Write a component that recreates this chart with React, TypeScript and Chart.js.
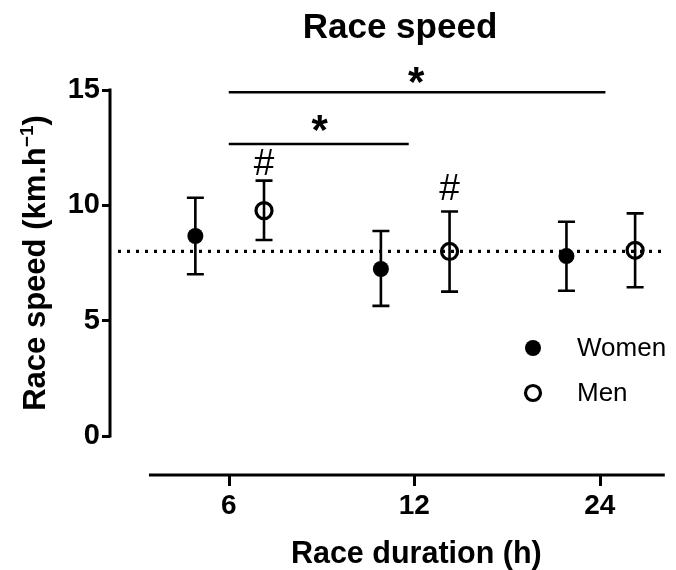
import React, { useEffect, useRef } from "react";
import { Chart, registerables } from "chart.js";

Chart.register(...registerables);

// Race durations (h) and their positions on the x scale
const durations = ["6", "12", "24"];
const durationPos = [1, 2, 3];
const womenOffset = -0.18;
const menOffset = 0.19;

// Mean race speed (km/h) with lower / upper error bounds
const womenMean = [8.67, 7.24, 7.8];
const womenLow = [7.01, 5.64, 6.3];
const womenHigh = [10.33, 8.89, 9.29];
const menMean = [9.77, 8.0, 8.05];
const menLow = [8.5, 6.26, 6.45];
const menHigh = [11.07, 9.73, 9.65];

// Overall reference speed (dotted line)
const referenceSpeed = 8;
const yTicks = [0, 5, 10, 15];

// Significance brackets between durations (*)
const bracketFrom = [1, 1];
const bracketTo = [3.03, 1.97];
const bracketLevel = [14.9, 12.66];
const bracketStarX = [2.01, 1.49];
const bracketStarLevel = [15.65, 13.57];

// Men vs women differences (#), placed over the men's points
const hashIndex = [0, 1];
const hashLevel = [11.9, 10.8];

const FONT = "'Liberation Sans', Arial, Helvetica, sans-serif";

function centeredText(ctx: CanvasRenderingContext2D, text: string, x: number, cy: number) {
  const m = ctx.measureText(text);
  const asc = m.actualBoundingBoxAscent;
  const desc = m.actualBoundingBoxDescent;
  ctx.textAlign = "center";
  ctx.textBaseline = "alphabetic";
  ctx.fillText(text, x, cy - (desc - asc) / 2);
}

const errorBarsPlugin = {
  id: "errorBarsAndReference",
  beforeDatasetsDraw(chart: any) {
    const { ctx, chartArea, scales } = chart;
    const xs = scales.x;
    const ys = scales.y;
    ctx.save();
    // dotted reference line
    const ry = ys.getPixelForValue(referenceSpeed);
    ctx.strokeStyle = "#000";
    ctx.lineWidth = 3.2;
    ctx.setLineDash([3, 6]);
    ctx.beginPath();
    ctx.moveTo(chartArea.left + 8, ry);
    ctx.lineTo(chartArea.right, ry);
    ctx.stroke();
    ctx.setLineDash([]);

    // error bars
    const groups = [
      { off: womenOffset, low: womenLow, high: womenHigh },
      { off: menOffset, low: menLow, high: menHigh },
    ];
    ctx.lineWidth = 2.6;
    groups.forEach((g) => {
      durationPos.forEach((p, i) => {
        const x = xs.getPixelForValue(p + g.off);
        const yl = ys.getPixelForValue(g.low[i]);
        const yh = ys.getPixelForValue(g.high[i]);
        const cap = 8.5;
        ctx.beginPath();
        ctx.moveTo(x, yl);
        ctx.lineTo(x, yh);
        ctx.moveTo(x - cap, yl);
        ctx.lineTo(x + cap, yl);
        ctx.moveTo(x - cap, yh);
        ctx.lineTo(x + cap, yh);
        ctx.stroke();
      });
    });
    ctx.restore();
  },
};

const decorationsPlugin = {
  id: "axesTitlesAnnotations",
  afterDraw(chart: any) {
    const { ctx, chartArea, scales } = chart;
    const xs = scales.x;
    const ys = scales.y;
    ctx.save();
    ctx.fillStyle = "#000";
    ctx.strokeStyle = "#000";

    // y axis line (0..15)
    ctx.lineWidth = 3;
    ctx.lineCap = "square";
    ctx.beginPath();
    ctx.moveTo(chartArea.left, ys.getPixelForValue(yTicks[0]));
    ctx.lineTo(chartArea.left, ys.getPixelForValue(yTicks[yTicks.length - 1]));
    ctx.stroke();

    // detached x axis line with its tick marks
    ctx.lineCap = "butt";
    ctx.beginPath();
    ctx.moveTo(xs.getPixelForValue(0.57), chartArea.bottom);
    ctx.lineTo(chartArea.right, chartArea.bottom);
    ctx.stroke();
    ctx.lineWidth = 3;
    durationPos.forEach((p) => {
      const x = Math.round(xs.getPixelForValue(p)) + 0.5;
      ctx.beginPath();
      ctx.moveTo(x, chartArea.bottom);
      ctx.lineTo(x, chartArea.bottom + 11);
      ctx.stroke();
    });

    // significance brackets
    ctx.lineWidth = 2.5;
    bracketFrom.forEach((f, i) => {
      const y = ys.getPixelForValue(bracketLevel[i]);
      ctx.beginPath();
      ctx.moveTo(xs.getPixelForValue(f), y);
      ctx.lineTo(xs.getPixelForValue(bracketTo[i]), y);
      ctx.stroke();
      ctx.font = `bold 42px ${FONT}`;
      centeredText(ctx, "*", xs.getPixelForValue(bracketStarX[i]), ys.getPixelForValue(bracketStarLevel[i]));
    });

    // sex differences
    ctx.font = `37px ${FONT}`;
    hashIndex.forEach((idx, i) => {
      centeredText(ctx, "#", xs.getPixelForValue(durationPos[idx] + menOffset), ys.getPixelForValue(hashLevel[i]));
    });

    // chart title
    ctx.font = `bold 35px ${FONT}`;
    ctx.textAlign = "center";
    ctx.textBaseline = "alphabetic";
    ctx.fillText("Race speed", 400, 38);

    // x axis title
    ctx.font = `bold 30.5px ${FONT}`;
    ctx.fillText("Race duration (h)", xs.getPixelForValue(2) + 2, 563);

    // y axis title with superscript
    const cy = (ys.getPixelForValue(yTicks[0]) + ys.getPixelForValue(yTicks[yTicks.length - 1])) / 2;
    const mainFont = `bold 31px ${FONT}`;
    const supFont = `bold 19px ${FONT}`;
    const p1 = "Race speed (km.h";
    const p2 = "\u22121";
    const p3 = ")";
    ctx.font = mainFont;
    const w1 = ctx.measureText(p1).width;
    const w3 = ctx.measureText(p3).width;
    ctx.font = supFont;
    const w2 = ctx.measureText(p2).width;
    const total = w1 + w2 + w3;
    ctx.translate(45, cy);
    ctx.rotate(-Math.PI / 2);
    ctx.textAlign = "left";
    let x0 = -total / 2;
    ctx.font = mainFont;
    ctx.fillText(p1, x0, 0);
    x0 += w1;
    ctx.font = supFont;
    ctx.fillText(p2, x0, -12);
    x0 += w2;
    ctx.font = mainFont;
    ctx.fillText(p3, x0, 0);
    ctx.setTransform(1, 0, 0, 1, 0, 0);

    // legend
    const legendRows = chart.data.datasets.map((ds: any, i: number) => ({
      label: ds.label,
      border: ds.borderWidth,
      r: ds.pointRadius,
      y: 348 + i * 45,
    }));
    legendRows.forEach((row: any) => {
      ctx.beginPath();
      if (row.border > 0) {
        ctx.arc(533, row.y, row.r - 0.5, 0, Math.PI * 2);
        ctx.lineWidth = row.border;
        ctx.stroke();
      } else {
        ctx.arc(533, row.y, row.r, 0, Math.PI * 2);
        ctx.fill();
      }
      ctx.font = `26px ${FONT}`;
      ctx.textAlign = "left";
      ctx.textBaseline = "middle";
      ctx.fillText(row.label, 577, row.y + 1);
    });
    ctx.restore();
  },
};

export default function App() {
  const canvasRef = useRef<HTMLCanvasElement | null>(null);

  useEffect(() => {
    if (!canvasRef.current) return;
    const chart = new Chart(canvasRef.current, {
      type: "scatter",
      data: {
        datasets: [
          {
            label: "Women",
            data: womenMean.map((y, i) => ({ x: durationPos[i] + womenOffset, y })),
            backgroundColor: "#000",
            borderColor: "#000",
            borderWidth: 0,
            pointRadius: 8,
          },
          {
            label: "Men",
            data: menMean.map((y, i) => ({ x: durationPos[i] + menOffset, y })),
            backgroundColor: "rgba(0,0,0,0)",
            borderColor: "#000",
            borderWidth: 3.2,
            pointRadius: 8,
          },
        ],
      },
      options: {
        animation: false,
        responsive: false,
        devicePixelRatio: 1,
        events: [],
        layout: { padding: { top: 90, right: 6, left: 0, bottom: 0 } },
        plugins: {
          legend: { display: false },
          tooltip: { enabled: false },
          title: { display: false },
        },
        scales: {
          x: {
            type: "linear",
            min: 0.36,
            max: 3.35,
            afterBuildTicks: (scale: any) => {
              scale.ticks = durationPos.map((v) => ({ value: v }));
            },
            afterFit: (scale: any) => {
              scale.height = 95;
            },
            ticks: {
              callback: (v: any) => durations[durationPos.indexOf(Number(v))],
              color: "#000",
              font: { family: FONT, size: 28, weight: "bold" },
              padding: 3,
              autoSkip: false,
              maxRotation: 0,
            },
            grid: {
              display: true,
              drawOnChartArea: false,
              drawTicks: true,
              tickLength: 11,
              color: "rgba(0,0,0,0)",
              lineWidth: 0,
            },
            border: { display: false },
          },
          y: {
            type: "linear",
            min: -1.69,
            max: 15,
            afterBuildTicks: (scale: any) => {
              scale.ticks = yTicks.map((v) => ({ value: v }));
            },
            afterFit: (scale: any) => {
              scale.width = 110;
            },
            ticks: {
              color: "#000",
              font: { family: FONT, size: 29, weight: "bold" },
              padding: 2,
            },
            grid: {
              display: true,
              drawOnChartArea: false,
              drawTicks: true,
              tickLength: 8,
              color: "#000",
              lineWidth: 3,
            },
            border: { display: false },
          },
        },
      },
      plugins: [errorBarsPlugin, decorationsPlugin],
    } as any);
    return () => chart.destroy();
  }, []);

  return (
    <div style={{ position: "fixed", left: 0, top: 0, width: 676, height: 570, background: "#fff" }}>
      <canvas ref={canvasRef} width={676} height={570} style={{ display: "block" }} />
    </div>
  );
}
